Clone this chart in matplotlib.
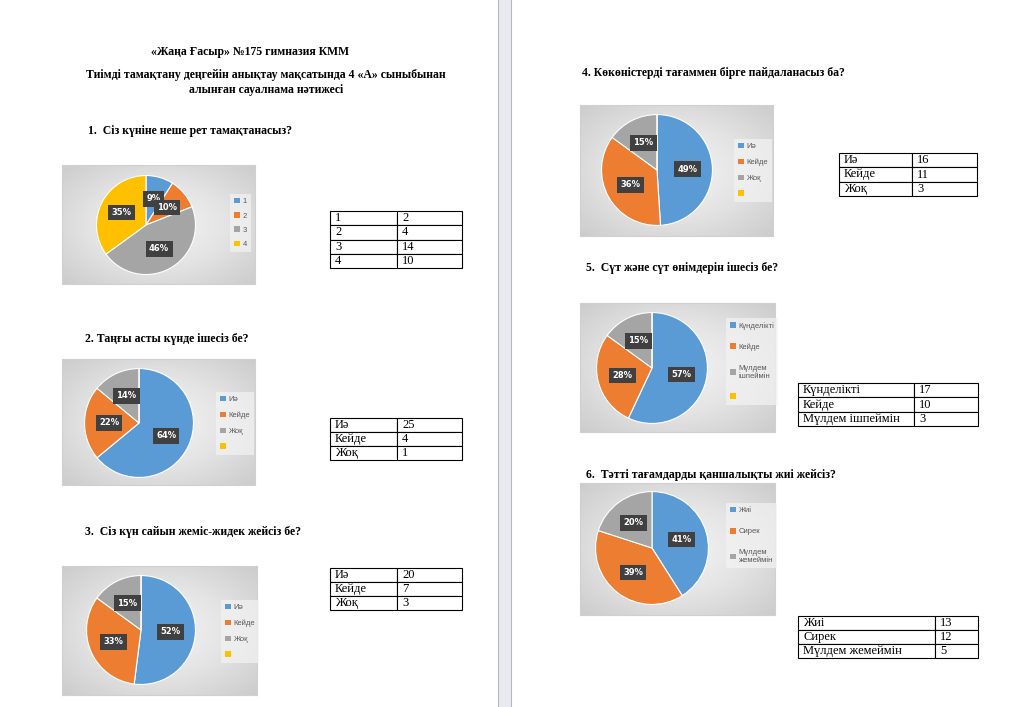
import numpy as np
import matplotlib
matplotlib.use('Agg')
import matplotlib.pyplot as plt
from matplotlib.colors import LinearSegmentedColormap
from matplotlib.patches import Rectangle, Patch

W, H = 1009, 707

# ---- data ----
pie1_labels = ['1', '2', '3', '4']
pie1_values = [9, 10, 46, 35]
pie2_labels = ['Иә', 'Кейде', 'Жоқ', '']
pie2_values = [64, 22, 14, 0]
pie3_labels = ['Иә', 'Кейде', 'Жоқ', '']
pie3_values = [52, 33, 15, 0]
pie4_labels = ['Иә', 'Кейде', 'Жоқ', '']
pie4_values = [49, 36, 15, 0]
pie5_labels = ['Күнделікті', 'Кейде', 'Мүлдем\nішпеймін', '']
pie5_values = [57, 28, 15, 0]
pie6_labels = ['Жиі', 'Сирек', 'Мүлдем\nжемеймін']
pie6_values = [41, 39, 20]

tab1_rows = [['1', '2'], ['2', '4'], ['3', '14'], ['4', '10']]
tab2_rows = [['Иә', '25'], ['Кейде', '4'], ['Жоқ', '1']]
tab3_rows = [['Иә', '20'], ['Кейде', '7'], ['Жоқ', '3']]
tab4_rows = [['Иә', '16'], ['Кейде', '11'], ['Жоқ', '3']]
tab5_rows = [['Күнделікті', '17'], ['Кейде', '10'], ['Мүлдем ішпеймін', '3']]
tab6_rows = [['Жиі', '13'], ['Сирек', '12'], ['Мүлдем жемеймін', '5']]

colors = ['#5B9BD5', '#ED7D31', '#A5A5A5', '#FFC000']


def box(x, y, w, h):
    # pixel box (top-left origin) -> figure fraction
    return [x / W, 1 - (y + h) / H, w / W, h / H]


def fx(x):
    return x / W


def fy(y):
    return 1 - y / H


fig = plt.figure(figsize=(W / 100, H / 100), dpi=100)
fig.patch.set_facecolor('white')

# page separator
fig.patches.append(Rectangle((fx(498), 0), fx(511) - fx(498), 1, transform=fig.transFigure,
                             facecolor='#e9e9f0', edgecolor='none'))
for xx in (498, 511):
    fig.add_artist(plt.Line2D([fx(xx), fx(xx)], [0, 1], color='#b8b8bc', lw=0.8))

serif = 'Liberation Serif'
head = dict(fontfamily=serif, fontweight='bold', fontsize=8.5, color='black')

fig.text(fx(250), fy(52), '«Жаңа Ғасыр» №175 гимназия КММ', ha='center', va='center', **head)
fig.text(fx(266), fy(75), 'Тиімді тамақтану деңгейін анықтау мақсатында 4 «А» сыныбынан',
         ha='center', va='center', **head)
fig.text(fx(266), fy(90), 'алынған сауалнама нәтижесі', ha='center', va='center', **head)
fig.text(fx(88), fy(131), '1.  Сіз күніне неше рет тамақтанасыз?', va='center', **head)
fig.text(fx(85), fy(339), '2. Таңғы асты күнде ішесіз бе?', va='center', **head)
fig.text(fx(85), fy(532), '3.  Сіз күн сайын жеміс-жидек жейсіз бе?', va='center', **head)
fig.text(fx(582), fy(73), '4. Көкөністерді тағаммен бірге пайдаланасыз ба?', va='center', **head)
fig.text(fx(586), fy(268), '5.  Сүт және сүт өнімдерін ішесіз бе?', va='center', **head)
fig.text(fx(586), fy(475), '6.  Тәтті тағамдарды қаншалықты жиі жейсіз?', va='center', **head)

grad = LinearSegmentedColormap.from_list('g', ['#f5f5f5', '#e4e4e4', '#cccccc'])
yy, xx = np.mgrid[-1:1:120j, -1:1:200j]
rr = np.sqrt(xx ** 2 + yy ** 2) / np.sqrt(2)


def pie_chart(bx, centre, r, labels, values, leg_xy, spacing):
    bg = fig.add_axes(box(*bx))
    bg.imshow(rr, cmap=grad, extent=[0, 1, 0, 1], aspect='auto', vmin=0, vmax=1)
    bg.set_xticks([])
    bg.set_yticks([])
    for s in bg.spines.values():
        s.set_color('#d0d0d0')
        s.set_linewidth(0.8)

    ax = fig.add_axes(box(centre[0] - r, centre[1] - r, 2 * r, 2 * r))
    wedges, _, autotexts = ax.pie(
        values, colors=colors[:len(values)], startangle=90, counterclock=False,
        autopct=lambda p: f'{p:.0f}%' if p > 0 else '', pctdistance=0.55,
        wedgeprops=dict(edgecolor='white', linewidth=0.8))
    for t in autotexts:
        t.set_color('white')
        t.set_fontsize(6)
        t.set_fontweight('bold')
        t.set_fontfamily('DejaVu Sans')
        t.set_bbox(dict(boxstyle='square,pad=0.4', fc='#404040', ec='none'))
    ax.set_xlim(-1.01, 1.01)
    ax.set_ylim(-1.01, 1.01)
    ax.set_aspect('equal')

    handles = [Patch(facecolor=w.get_facecolor(), edgecolor='none') for w in wedges]
    leg = ax.legend(handles, labels, loc='upper left',
                    bbox_to_anchor=(fx(leg_xy[0]), fy(leg_xy[1])),
                    bbox_transform=fig.transFigure, frameon=True, fancybox=False,
                    facecolor='#f3f3f3', edgecolor='none', framealpha=0.7,
                    handlelength=0.75, handleheight=0.75, handletextpad=0.4,
                    labelspacing=spacing, borderpad=0.5, borderaxespad=0,
                    prop={'family': 'Liberation Sans', 'size': 5.5})
    for t in leg.get_texts():
        t.set_color('#595959')


pie_chart((62, 165, 193, 119), (146, 225), 50, pie1_labels, pie1_values, (230, 194), 0.9)
pie_chart((62, 359, 193, 126), (139, 423), 55, pie2_labels, pie2_values, (216, 392), 1.1)
pie_chart((62, 566, 195, 129), (141, 630), 55, pie3_labels, pie3_values, (221, 600), 1.1)
pie_chart((580, 105, 193, 131), (657, 170), 56, pie4_labels, pie4_values, (734, 139), 1.1)
pie_chart((580, 303, 195, 129), (652, 368), 56, pie5_labels, pie5_values, (726, 318), 1.8)
pie_chart((580, 483, 195, 132), (652, 548), 57, pie6_labels, pie6_values, (726, 503), 1.8)


def data_table(bx, rows, split):
    ax = fig.add_axes(box(*bx))
    ax.axis('off')
    w1 = (split - bx[0]) / bx[2]
    tb = ax.table(cellText=rows, cellLoc='left', colWidths=[w1, 1 - w1], bbox=[0, 0, 1, 1])
    tb.auto_set_font_size(False)
    tb.set_fontsize(9)
    for (i, j), cell in tb.get_celld().items():
        cell.set_edgecolor('black')
        cell.set_linewidth(0.8)
        cw = (w1 if j == 0 else 1 - w1) * bx[2]
        cell.PAD = 5 / cw
        cell.get_text().set_fontfamily(serif)


data_table((330, 211, 132, 57), tab1_rows, 397)
data_table((330, 418, 132, 42), tab2_rows, 397)
data_table((330, 568, 132, 42), tab3_rows, 397)
data_table((839, 153, 138, 43), tab4_rows, 912)
data_table((798, 383, 180, 43), tab5_rows, 914)
data_table((798, 616, 180, 42), tab6_rows, 935)

fig.savefig('out.png', dpi=100)
